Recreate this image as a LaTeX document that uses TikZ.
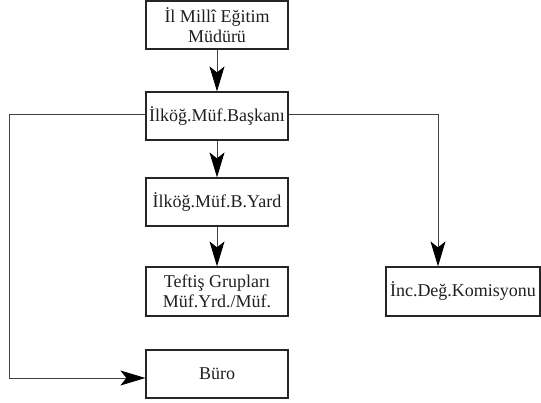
\documentclass[tikz,border=0pt]{standalone}
\usepackage{fontspec}
\setmainfont{Liberation Serif}
\usetikzlibrary{arrows.meta}
\begin{document}
\begin{tikzpicture}[x=1pt,y=-1pt,
  box/.style={draw=black!85, line width=1.2pt, minimum width=142pt, minimum height=48pt, inner sep=0pt, align=center, text=black!88, font=\fontsize{18}{20}\selectfont},
  conn/.style={draw=black!75, line width=0.9pt},
  arr/.style={conn, -{Stealth[length=25pt, width=15pt, inset=6pt, color=black]}}]
\useasboundingbox (0,0) rectangle (541,403);
\node[box] (mudur) at (217,25) {İl Millî Eğitim\\Müdürü};
\node[box] (bask) at (217,116) {İlköğ.Müf.Başkanı};
\node[box] (yard) at (217,202) {İlköğ.Müf.B.Yard};
\node[box, minimum height=49pt] (teftis) at (217,291.5) {Teftiş Grupları\\Müf.Yrd./Müf.};
\node[box] (buro) at (217,374) {Büro};
\node[box, minimum width=154pt, minimum height=49pt] (kom) at (463,291.5) {İnc.Değ.Komisyonu};
\coordinate (l1) at (9,114);
\coordinate (l2) at (9,378);
\coordinate (r1) at (438,114);
\draw[arr] (mudur) -- (bask);
\draw[arr] (bask) -- (yard);
\draw[arr] (yard) -- (teftis);
\draw[arr] (bask.west |- l1) -- (l1) -- (l2) -- (buro.west |- l2);
\draw[arr] (bask.east |- r1) -- (r1) -- (r1 |- kom.north);
\end{tikzpicture}
\end{document}
